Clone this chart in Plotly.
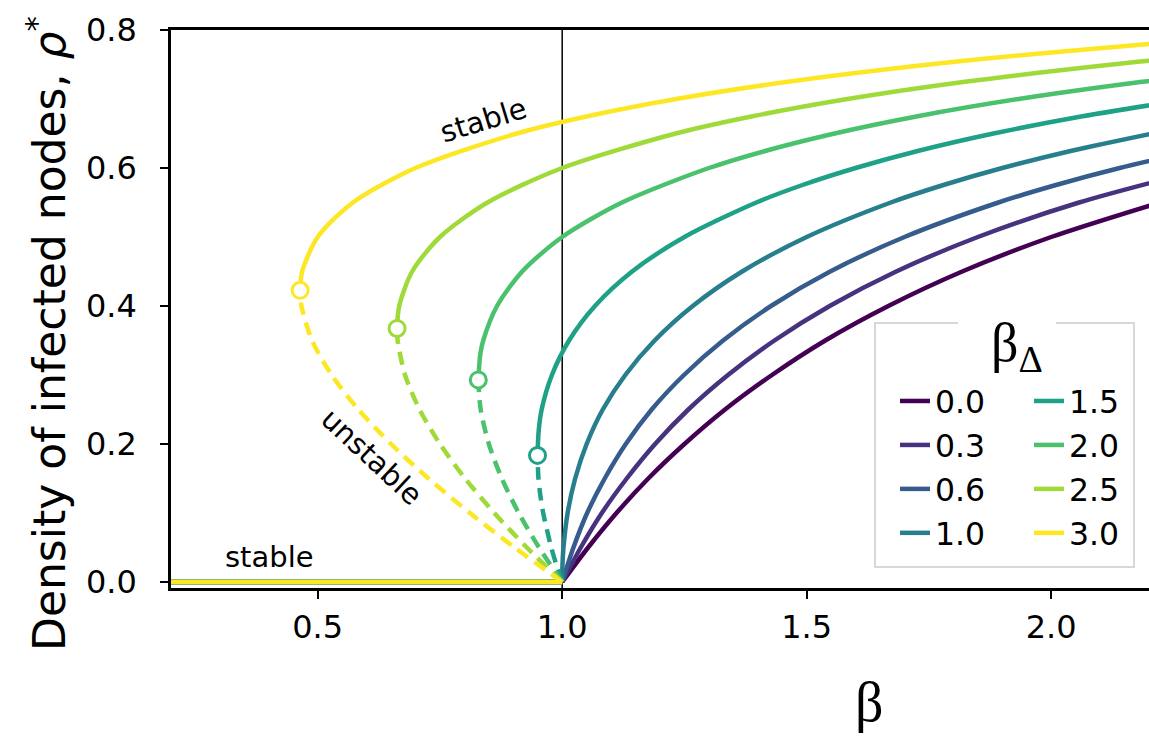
import plotly.graph_objects as go

# ---------------- data ----------------
beta_delta = [0.0, 0.3, 0.6, 1.0, 1.5, 2.0, 2.5, 3.0]
labels = ["0.0", "0.3", "0.6", "1.0", "1.5", "2.0", "2.5", "3.0"]
colors = ["#440154", "#46327e", "#365c8d", "#277f8e",
          "#1fa187", "#4ac16d", "#a0da39", "#fde725"]

# stable (upper) branches: beta, rho
stable_beta = {
    0.0: [1.0, 1.053, 1.111, 1.176, 1.25, 1.333, 1.429, 1.538, 1.667, 1.818, 2.0, 2.222],
    0.3: [1.0, 1.038, 1.081, 1.132, 1.19, 1.258, 1.339, 1.434, 1.547, 1.683, 1.85, 2.057, 2.32],
    0.6: [1.0, 1.023, 1.051, 1.087, 1.13, 1.183, 1.249, 1.329, 1.427, 1.548, 1.7, 1.892, 2.008, 2.14, 2.292],
    1.0: [1.0, 1.0006, 1.0026, 1.0111, 1.0265, 1.05, 1.083, 1.129, 1.189, 1.267, 1.368, 1.5, 1.672, 1.778, 1.9, 2.042, 2.207],
    1.5: [0.9495, 0.952, 0.958, 0.979, 1.014, 1.067, 1.143, 1.25, 1.397, 1.49, 1.6, 1.729, 1.882, 2.064, 2.283],
    2.0: [0.8284, 0.8325, 0.8385, 0.8667, 0.9182, 1.0, 1.1222, 1.3, 1.4167, 1.5571, 1.7269, 1.9333, 2.1864, 2.3662],
    2.5: [0.6623, 0.6667, 0.6932, 0.75, 0.8472, 1.0, 1.2321, 1.3894, 1.5833, 1.8239, 2.125, 2.2667],
    3.0: [0.4641, 0.4682, 0.5, 0.5722, 0.7, 0.9071, 1.0519, 1.2333, 1.4614, 1.75, 1.9603, 2.2055, 2.3919],
}
stable_rho = {
    0.0: [0, .05, .1, .15, .2, .25, .3, .35, .4, .45, .5, .55],
    0.3: [0, .05, .1, .15, .2, .25, .3, .35, .4, .45, .5, .55, .6],
    0.6: [0, .05, .1, .15, .2, .25, .3, .35, .4, .45, .5, .55, .575, .6, .625],
    1.0: [0, .025, .05, .1, .15, .2, .25, .3, .35, .4, .45, .5, .55, .575, .6, .625, .65],
    1.5: [.1835, .22, .25, .3, .35, .4, .45, .5, .55, .575, .6, .625, .65, .675, .7],
    2.0: [.2929, .33, .35, .4, .45, .5, .55, .6, .625, .65, .675, .7, .725, .74],
    2.5: [.3675, .4, .45, .5, .55, .6, .65, .675, .7, .725, .75, .76],
    3.0: [.4227, .45, .5, .55, .6, .65, .675, .7, .725, .75, .765, .78, .79],
}
# unstable (lower, dashed) branches
unstable_beta = {
    1.5: [1.0, 0.9881, 0.9776, 0.9611, 0.9554, 0.9515, 0.9495],
    2.0: [1.0, 0.9526, 0.9111, 0.8765, 0.85, 0.8333, 0.8284],
    2.5: [1.0, 0.9276, 0.8611, 0.8015, 0.75, 0.7083, 0.6786, 0.6635, 0.6623],
    3.0: [1.0, 0.9026, 0.8111, 0.7265, 0.65, 0.5833, 0.5286, 0.4885, 0.4667, 0.4641],
}
unstable_rho = {
    1.5: [0, .025, .05, .1, .125, .15, .1835],
    2.0: [0, .05, .1, .15, .2, .25, .2929],
    2.5: [0, .05, .1, .15, .2, .25, .3, .35, .3675],
    3.0: [0, .05, .1, .15, .2, .25, .3, .35, .4, .4227],
}
# saddle-node (fold) points
fold_beta = {1.5: 0.9495, 2.0: 0.8284, 2.5: 0.6623, 3.0: 0.4641}
fold_rho = {1.5: 0.1835, 2.0: 0.2929, 2.5: 0.3675, 3.0: 0.4227}
# absorbing (rho = 0) stable branch
zero_beta = [0.2, 1.0]
zero_rho = [0.0, 0.0]

x_ticks = [0.5, 1.0, 1.5, 2.0]
y_ticks = [0.0, 0.2, 0.4, 0.6, 0.8]

# ---------------- figure ----------------
W, H = 1149, 736
L, R, T, B = 171, 1149, 30, 588          # plot area in pixels


def px(x):
    return (x - L) / (R - L)


def py(y):
    return (B - y) / (B - T)


FONT = "DejaVu Sans"
LW = 4.5
fig = go.Figure()

for i, a in enumerate(beta_delta):
    c = colors[i]
    leg = "legend" if i < 4 else "legend2"
    fig.add_trace(go.Scatter(
        x=stable_beta[a], y=stable_rho[a], mode="lines",
        line=dict(color=c, width=LW, shape="spline", smoothing=0.8),
        name=labels[i], legend=leg, showlegend=True, legendgroup=labels[i]))
    if a in unstable_beta:
        fig.add_trace(go.Scatter(
            x=unstable_beta[a], y=unstable_rho[a], mode="lines",
            line=dict(color=c, width=LW, dash="13px,8px", shape="spline", smoothing=0.8),
            showlegend=False, legendgroup=labels[i], hoverinfo="skip"))
    fig.add_trace(go.Scatter(
        x=zero_beta, y=zero_rho, mode="lines",
        line=dict(color=c, width=LW), showlegend=False,
        legendgroup=labels[i], hoverinfo="skip"))

for i, a in enumerate(beta_delta):
    if a in fold_beta:
        fig.add_trace(go.Scatter(
            x=[fold_beta[a]], y=[fold_rho[a]], mode="markers",
            marker=dict(symbol="circle", size=16, color="white",
                        line=dict(color=colors[i], width=3)),
            showlegend=False, legendgroup=labels[i], cliponaxis=False))

# vertical line at beta = 1
fig.add_shape(type="line", xref="x", yref="paper", x0=1.0, x1=1.0, y0=0, y1=1,
              line=dict(color="black", width=1.5), layer="below")

# legend box (with a gap for the title)
bx0, bx1, by0, by1 = 875, 1134, 323, 567
gap0, gap1 = 958, 1056
fig.add_shape(type="rect", xref="paper", yref="paper",
              x0=px(bx0), x1=px(bx1), y0=py(by1), y1=py(by0),
              line=dict(width=0), fillcolor="rgba(255,255,255,0.8)", layer="above")
path = (f"M {px(gap0)},{py(by0)} L {px(bx0)},{py(by0)} L {px(bx0)},{py(by1)} "
        f"L {px(bx1)},{py(by1)} L {px(bx1)},{py(by0)} L {px(gap1)},{py(by0)}")
fig.add_shape(type="path", xref="paper", yref="paper", path=path,
              line=dict(color="#cccccc", width=1.5), layer="above")

fig.add_annotation(xref="paper", yref="paper", x=px(1017), y=py(346),
                   text="β<sub>Δ</sub>", showarrow=False,
                   font=dict(family="Liberation Serif", size=54, color="black"),
                   xanchor="center", yanchor="middle")

# text labels
fig.add_annotation(x=0.840, y=0.670, text="stable", showarrow=False, textangle=-17,
                   font=dict(family=FONT, size=29, color="black"))
fig.add_annotation(x=0.611, y=0.181, text="unstable", showarrow=False, textangle=43,
                   font=dict(family=FONT, size=29, color="black"))
fig.add_annotation(x=0.4004, y=0.036, text="stable", showarrow=False,
                   font=dict(family=FONT, size=29, color="black"))

# axis labels
fig.add_annotation(xref="paper", yref="paper", x=px(869), y=py(735),
                   text="β", showarrow=False, xanchor="center", yanchor="bottom",
                   font=dict(family="Liberation Serif", size=56, color="black"))
fig.add_annotation(xref="paper", yref="paper", x=px(46), y=py(334),
                   text="Density of infected nodes, <i>ρ</i><sup>*</sup>",
                   showarrow=False, textangle=-90, xanchor="center", yanchor="middle",
                   font=dict(family=FONT, size=44, color="black"))

fig.update_layout(
    width=W, height=H,
    margin=dict(l=L, r=W - R, t=T, b=H - B, pad=0, autoexpand=False),
    paper_bgcolor="white", plot_bgcolor="white",
    font=dict(family=FONT, size=32, color="black"),
    showlegend=True,
    legend=dict(x=px(895), y=py(374), xanchor="left", yanchor="top",
                bgcolor="rgba(0,0,0,0)", borderwidth=0, itemwidth=30,
                font=dict(family=FONT, size=31.5), tracegroupgap=0),
    legend2=dict(x=px(1029), y=py(374), xanchor="left", yanchor="top",
                 bgcolor="rgba(0,0,0,0)", borderwidth=0, itemwidth=30,
                 font=dict(family=FONT, size=31.5), tracegroupgap=0),
    xaxis=dict(range=[0.2, 2.2], tickvals=x_ticks, tickformat=".1f",
               automargin=False,
               showline=True, linecolor="black", linewidth=2.5, mirror=True,
               ticks="outside", ticklen=8, tickwidth=2, tickcolor="black",
               ticklabelstandoff=1,
               showgrid=False, zeroline=False,
               tickfont=dict(family=FONT, size=32)),
    yaxis=dict(range=[-0.0087, 0.8], tickvals=y_ticks, tickformat=".1f",
               automargin=False,
               showline=True, linecolor="black", linewidth=2.5,
               ticks="outside", ticklen=8, tickwidth=2, tickcolor="black",
               ticklabelstandoff=17,
               showgrid=False, zeroline=False,
               tickfont=dict(family=FONT, size=32)),
)

fig.write_html(
    "out.html",
    config={"displayModeBar": False},
    post_script="document.body.style.margin='0';document.body.style.overflow='hidden';",
)
